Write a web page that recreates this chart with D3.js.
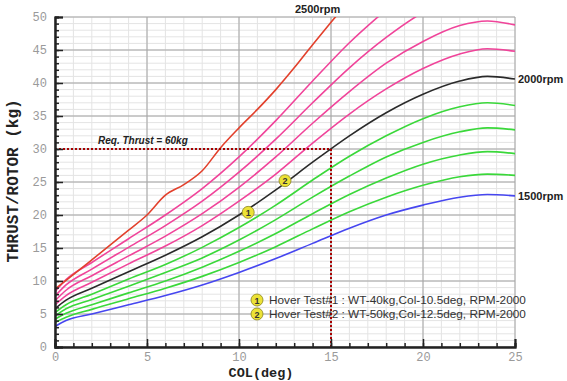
<!DOCTYPE html>
<html>
<head>
<meta charset="utf-8">
<script src="https://cdn.jsdelivr.net/npm/d3@7"></script>
<style>
  body { margin: 0; background: #fff; }
  svg { display: block; }
</style>
</head>
<body>
<div id="chart"></div>
<script>
// collective pitch (deg) where the curves were read
var col = [0, 0.6, 2, 4, 6, 8, 10, 12, 14, 16, 18, 20, 22, 23.5, 25];
// thrust per rotor (kg) for each rpm
var rpm1500 = [3.1, 4.0, 5.0, 6.4, 7.8, 9.4, 11.3, 13.4, 15.7, 18.0, 20.0, 21.5, 22.7, 23.1, 22.9];
var rpm1600 = [3.7, 4.5, 5.7, 7.3, 8.9, 10.7, 12.8, 15.2, 17.9, 20.5, 22.7, 24.5, 25.8, 26.2, 26.0];
var rpm1700 = [4.2, 5.1, 6.4, 8.2, 10.0, 12.1, 14.5, 17.2, 20.2, 23.1, 25.6, 27.7, 29.1, 29.6, 29.3];
var rpm1800 = [4.7, 5.8, 7.2, 9.2, 11.3, 13.5, 16.2, 19.3, 22.7, 25.9, 28.8, 31.0, 32.6, 33.2, 32.9];
var rpm1900 = [5.2, 6.4, 8.0, 10.3, 12.5, 15.1, 18.1, 21.5, 25.3, 28.9, 32.0, 34.6, 36.4, 37.0, 36.6];
var rpm2000 = [5.8, 7.1, 8.9, 11.4, 13.9, 16.7, 20.0, 23.8, 28.0, 32.0, 35.5, 38.3, 40.3, 41.0, 40.6];
var rpm2100 = [6.4, 7.8, 9.8, 12.6, 15.3, 18.4, 22.1, 26.2, 30.9, 35.3, 39.1, 42.2, 44.4, 45.2, 44.8];
var rpm2200 = [7.0, 8.6, 10.8, 13.8, 16.8, 20.2, 24.2, 28.8, 33.9, 38.7, 43.0, 46.3, 48.7, 49.4, 48.8];
var rpm2300 = [7.7, 9.4, 11.8, 15.1, 18.4, 22.1, 26.5, 31.5, 37.0, 42.3, 46.9, 50.7, 53.3];
var rpm2400 = [8.4, 10.2, 12.8, 16.4, 20.0, 24.0, 28.8, 34.3, 40.3, 46.1, 51.1];
// the 2500 rpm curve was read on its own points
var col2500 = [0, 0.6, 2, 4, 5, 6, 7, 8, 9, 10, 11, 12, 13, 14, 15, 16];
var rpm2500 = [8.8, 10.1, 13.2, 17.7, 20.0, 23.0, 24.6, 26.7, 30.2, 33.2, 36.0, 39.0, 42.3, 45.8, 49.2, 52.5];

var reqThrust = 30, reqCol = 15;
var hoverCol = [10.5, 12.5];
var hoverThrust = [20.4, 25.2];
var hoverText = ['Hover Test#1 : WT-40kg,Col-10.5deg, RPM-2000',
                 'Hover Test#2 : WT-50kg,Col-12.5deg, RPM-2000'];

var xTicks = [0, 5, 10, 15, 20, 25];
var yTicks = [0, 5, 10, 15, 20, 25, 30, 35, 40, 45, 50];

var W = 567, H = 381;
var margin = { top: 17, right: 52, bottom: 34, left: 55 };
var width = W - margin.left - margin.right,
    height = H - margin.top - margin.bottom;

var svg = d3.select('#chart').append('svg')
  .attr('width', W)
  .attr('height', H)
  .append('g')
  .attr('transform', translation(margin.left, margin.top));

var x = d3.scaleLinear().domain([0, 25]).range([0, width]);
var y = d3.scaleLinear().domain([0, 50]).range([height, 0]);

// minor grid (every 1)
svg.append('g').selectAll('line')
  .data(d3.range(0, 26)).enter().append('line')
  .attr('x1', function (d) { return x(d); }).attr('x2', function (d) { return x(d); })
  .attr('y1', 0).attr('y2', height)
  .attr('stroke', '#e4e4e4').attr('stroke-width', 1);
svg.append('g').selectAll('line')
  .data(d3.range(0, 51)).enter().append('line')
  .attr('y1', function (d) { return y(d); }).attr('y2', function (d) { return y(d); })
  .attr('x1', 0).attr('x2', width)
  .attr('stroke', '#e4e4e4').attr('stroke-width', 1);

// major grid (every 5)
svg.append('g').selectAll('line')
  .data(xTicks).enter().append('line')
  .attr('x1', function (d) { return x(d); }).attr('x2', function (d) { return x(d); })
  .attr('y1', 0).attr('y2', height)
  .attr('stroke', '#a4a4a4').attr('stroke-width', 1);
svg.append('g').selectAll('line')
  .data(yTicks).enter().append('line')
  .attr('y1', function (d) { return y(d); }).attr('y2', function (d) { return y(d); })
  .attr('x1', 0).attr('x2', width)
  .attr('stroke', '#a4a4a4').attr('stroke-width', 1);

// clip for curves running off the top
svg.append('clipPath').attr('id', 'plot')
  .append('rect').attr('width', width).attr('height', height);

var line = d3.line()
  .x(function (d) { return x(d[0]); })
  .y(function (d) { return y(d[1]); })
  .curve(d3.curveMonotoneX);

var series = [
  { v: rpm1500, c: col, color: '#4646f0' },
  { v: rpm1600, c: col, color: '#3ad83a' },
  { v: rpm1700, c: col, color: '#3ad83a' },
  { v: rpm1800, c: col, color: '#3ad83a' },
  { v: rpm1900, c: col, color: '#3ad83a' },
  { v: rpm2000, c: col, color: '#2a2a2a' },
  { v: rpm2100, c: col, color: '#f0449a' },
  { v: rpm2200, c: col, color: '#f0449a' },
  { v: rpm2300, c: col, color: '#f0449a' },
  { v: rpm2400, c: col, color: '#f0449a' },
  { v: rpm2500, c: col2500, color: '#e2402c' }
];

svg.append('g').attr('clip-path', 'url(#plot)')
  .selectAll('path')
  .data(series).enter().append('path')
  .attr('d', function (s) { return line(s.v.map(function (t, i) { return [s.c[i], t]; })); })
  .attr('fill', 'none')
  .attr('stroke', function (s) { return s.color; })
  .attr('stroke-width', 1.6);

// required thrust guide lines
svg.append('path')
  .attr('d', 'M' + x(0) + ',' + y(reqThrust) + 'H' + x(reqCol) + 'V' + y(0))
  .attr('fill', 'none')
  .attr('stroke', '#a80000')
  .attr('stroke-width', 2)
  .attr('stroke-dasharray', '2,2');

svg.append('text')
  .attr('x', 43).attr('y', y(reqThrust) - 5)
  .style('font', 'italic bold 10px "Liberation Sans", Arial, sans-serif')
  .attr('fill', '#222')
  .text('Req. Thrust = 60kg');

// axes: major + minor ticks pointing inward
svg.append('g')
  .call(d3.axisLeft(y).tickValues(yTicks).tickSize(-8).tickPadding(8));
svg.append('g')
  .call(d3.axisLeft(y).tickValues(d3.range(0, 51)).tickSize(-4).tickFormat(''));
svg.append('g')
  .attr('transform', translation(0, height))
  .call(d3.axisBottom(x).tickValues(xTicks).tickSize(-8).tickPadding(5));
svg.append('g')
  .attr('transform', translation(0, height))
  .call(d3.axisBottom(x).tickValues(d3.range(0, 26)).tickSize(-4).tickFormat(''));

svg.selectAll('.domain').attr('stroke', '#222').attr('stroke-width', 2);
svg.selectAll('.tick line').attr('stroke', '#222').attr('stroke-width', 1.5);
svg.selectAll('.tick text')
  .style('font', '12px "Liberation Mono", monospace')
  .attr('fill', '#9a9a9a');

// hover test markers on the 2000 rpm curve
function marker(g, cx, cy, label) {
  g.append('circle').attr('cx', cx).attr('cy', cy).attr('r', 6)
    .attr('fill', '#ece236').attr('stroke', '#8a8420').attr('stroke-width', 0.8);
  g.append('text').attr('x', cx).attr('y', cy + 3.5)
    .attr('text-anchor', 'middle')
    .style('font', 'bold 9px "Liberation Sans", Arial, sans-serif')
    .attr('fill', '#333').text(label);
}
hoverCol.forEach(function (c, i) {
  marker(svg, x(c), y(hoverThrust[i]), String(i + 1));
});

// legend
hoverText.forEach(function (t, i) {
  var ly = 283 + i * 14;
  marker(svg, 202, ly, String(i + 1));
  svg.append('text')
    .attr('x', 214).attr('y', ly + 4)
    .style('font', '11.8px "Liberation Sans", Arial, sans-serif')
    .attr('fill', '#333')
    .text(t);
});

// rpm labels
var rpmFont = 'bold 11px "Liberation Sans", Arial, sans-serif';
svg.append('text').attr('x', 240).attr('y', -4)
  .style('font', rpmFont).attr('fill', '#222')
  .text('2500rpm');
svg.append('text').attr('x', width + 3).attr('y', y(rpm2000[rpm2000.length - 1]) + 4)
  .style('font', rpmFont).attr('fill', '#222')
  .text('2000rpm');
svg.append('text').attr('x', width + 3).attr('y', y(rpm1500[rpm1500.length - 1]) + 4)
  .style('font', rpmFont).attr('fill', '#222')
  .text('1500rpm');

// axis titles
svg.append('text')
  .attr('x', width / 2 - 24).attr('y', height + 30)
  .attr('text-anchor', 'middle')
  .style('font', 'bold 13.5px "Liberation Mono", monospace')
  .attr('fill', '#222')
  .text('COL(deg)');

svg.append('text')
  .attr('transform', translation(-37, height / 2 - 1) + 'rotate(-90)')
  .attr('text-anchor', 'middle')
  .style('font', 'bold 16px "Liberation Mono", monospace')
  .attr('fill', '#222')
  .text('THRUST/ROTOR (kg)');

function translation(x, y) {
  return 'translate(' + x + ',' + y + ')';
}
</script>
</body>
</html>
